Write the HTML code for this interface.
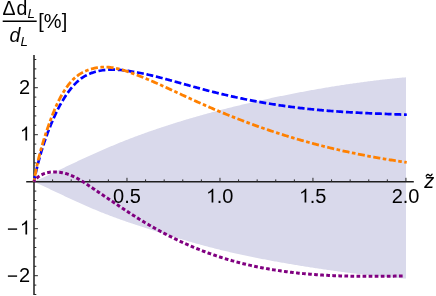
<!DOCTYPE html>
<html><head><meta charset="utf-8"><title>plot</title>
<style>
html,body{margin:0;padding:0;background:#fff;}
body{width:436px;height:296px;overflow:hidden;}
svg{display:block;}
text{font-family:"Liberation Sans",sans-serif;font-size:20px;fill:#000;}
.it{font-style:italic;}
.tx{filter:opacity(0.9999);}
</style></head><body>
<svg width="436" height="296" viewBox="0 0 436 296">
<rect width="436" height="296" fill="#fff"/>
<path d="M34.00,181.60 L35.08,181.11 L36.17,180.62 L37.25,180.12 L38.33,179.63 L39.42,179.13 L40.51,178.64 L41.59,178.14 L42.68,177.64 L43.77,177.14 L44.86,176.64 L45.95,176.14 L47.04,175.63 L48.13,175.13 L49.22,174.62 L50.31,174.12 L51.41,173.61 L52.50,173.11 L53.60,172.60 L54.69,172.08 L55.79,171.56 L56.89,171.04 L57.98,170.52 L59.08,169.99 L60.18,169.47 L61.28,168.95 L62.38,168.42 L63.48,167.90 L64.59,167.38 L65.69,166.85 L66.79,166.33 L67.90,165.81 L69.00,165.29 L70.11,164.76 L71.22,164.24 L72.32,163.72 L73.43,163.20 L74.54,162.68 L75.65,162.16 L76.76,161.64 L77.87,161.12 L78.98,160.60 L80.09,160.08 L81.20,159.57 L82.32,159.05 L83.43,158.53 L84.55,158.02 L85.66,157.51 L86.78,157.00 L87.89,156.49 L89.01,155.98 L90.13,155.47 L91.25,154.96 L92.37,154.45 L93.49,153.95 L94.61,153.45 L95.73,152.95 L96.85,152.45 L97.97,151.95 L99.10,151.45 L100.22,150.96 L101.34,150.47 L102.47,149.98 L103.59,149.49 L104.72,149.00 L105.85,148.51 L106.98,148.03 L108.10,147.55 L109.23,147.07 L110.36,146.59 L111.49,146.11 L112.62,145.64 L113.75,145.17 L114.89,144.70 L116.02,144.23 L117.15,143.76 L118.28,143.30 L119.42,142.83 L120.55,142.37 L121.69,141.92 L122.82,141.46 L123.96,141.01 L125.10,140.56 L126.24,140.11 L127.37,139.66 L128.51,139.22 L129.65,138.78 L130.79,138.34 L131.93,137.90 L133.07,137.47 L134.22,137.04 L135.36,136.61 L136.50,136.18 L137.65,135.76 L138.79,135.33 L139.93,134.91 L141.08,134.50 L142.22,134.08 L143.37,133.67 L144.52,133.25 L145.67,132.84 L146.81,132.44 L147.96,132.03 L149.11,131.62 L150.26,131.22 L151.41,130.82 L152.56,130.42 L153.71,130.02 L154.86,129.63 L156.02,129.23 L157.17,128.84 L158.32,128.45 L159.47,128.06 L160.63,127.68 L161.78,127.29 L162.94,126.91 L164.09,126.53 L165.25,126.15 L166.41,125.77 L167.57,125.40 L168.72,125.03 L169.88,124.65 L171.04,124.28 L172.20,123.92 L173.36,123.55 L174.52,123.18 L175.68,122.82 L176.84,122.46 L178.00,122.10 L179.16,121.74 L180.33,121.38 L181.49,121.03 L182.65,120.67 L183.82,120.32 L184.98,119.97 L186.15,119.62 L187.31,119.27 L188.48,118.93 L189.65,118.58 L190.81,118.24 L191.98,117.90 L193.15,117.56 L194.31,117.22 L195.48,116.89 L196.65,116.55 L197.82,116.22 L198.99,115.89 L200.16,115.56 L201.33,115.23 L202.50,114.90 L203.68,114.57 L204.85,114.25 L206.02,113.92 L207.19,113.60 L208.37,113.28 L209.54,112.96 L210.71,112.64 L211.89,112.33 L213.06,112.01 L214.24,111.70 L215.42,111.39 L216.59,111.08 L217.77,110.77 L218.95,110.46 L220.12,110.15 L221.30,109.84 L222.48,109.54 L223.66,109.24 L224.84,108.93 L226.02,108.63 L227.20,108.34 L228.38,108.04 L229.56,107.74 L230.74,107.45 L231.92,107.15 L233.10,106.86 L234.28,106.57 L235.47,106.28 L236.65,105.99 L237.83,105.70 L239.01,105.41 L240.20,105.13 L241.38,104.84 L242.57,104.56 L243.75,104.28 L244.94,104.00 L246.12,103.72 L247.31,103.44 L248.50,103.16 L249.68,102.89 L250.87,102.61 L252.06,102.34 L253.24,102.07 L254.43,101.80 L255.62,101.53 L256.81,101.26 L258.00,100.99 L259.19,100.72 L260.38,100.46 L261.57,100.19 L262.76,99.93 L263.95,99.67 L265.14,99.41 L266.33,99.15 L267.52,98.89 L268.71,98.63 L269.91,98.38 L271.10,98.12 L272.29,97.87 L273.48,97.61 L274.68,97.36 L275.87,97.11 L277.06,96.86 L278.26,96.61 L279.45,96.37 L280.65,96.12 L281.84,95.88 L283.04,95.63 L284.23,95.39 L285.43,95.15 L286.63,94.91 L287.82,94.67 L289.02,94.43 L290.22,94.19 L291.41,93.96 L292.61,93.72 L293.81,93.49 L295.01,93.26 L296.20,93.02 L297.40,92.79 L298.60,92.56 L299.80,92.34 L301.00,92.11 L302.20,91.88 L303.40,91.66 L304.60,91.44 L305.80,91.21 L307.00,90.99 L308.20,90.77 L309.40,90.55 L310.60,90.34 L311.80,90.12 L313.00,89.90 L314.21,89.69 L315.41,89.48 L316.61,89.26 L317.81,89.05 L319.02,88.84 L320.22,88.64 L321.42,88.43 L322.62,88.22 L323.83,88.02 L325.03,87.81 L326.23,87.61 L327.44,87.41 L328.64,87.21 L329.85,87.01 L331.05,86.81 L332.26,86.62 L333.46,86.42 L334.67,86.23 L335.87,86.04 L337.08,85.85 L338.28,85.66 L339.49,85.47 L340.69,85.28 L341.90,85.09 L343.11,84.91 L344.31,84.72 L345.52,84.54 L346.73,84.36 L347.93,84.18 L349.14,84.00 L350.35,83.83 L351.56,83.65 L352.76,83.48 L353.97,83.30 L355.18,83.13 L356.39,82.96 L357.59,82.79 L358.80,82.63 L360.01,82.46 L361.22,82.29 L362.43,82.13 L363.64,81.97 L364.84,81.81 L366.05,81.65 L367.26,81.49 L368.47,81.34 L369.68,81.18 L370.89,81.03 L372.10,80.88 L373.31,80.73 L374.52,80.58 L375.73,80.43 L376.94,80.29 L378.15,80.14 L379.36,80.00 L380.57,79.86 L381.78,79.72 L382.99,79.59 L384.20,79.45 L385.41,79.32 L386.62,79.18 L387.83,79.05 L389.04,78.92 L390.25,78.80 L391.46,78.67 L392.68,78.55 L393.89,78.42 L395.10,78.30 L396.31,78.19 L397.52,78.07 L398.73,77.95 L399.94,77.84 L401.15,77.73 L402.37,77.62 L403.58,77.51 L404.79,77.40 L406.00,77.30 L406.00,278.55 L404.79,278.47 L403.59,278.38 L402.38,278.30 L401.17,278.21 L399.96,278.12 L398.76,278.03 L397.55,277.93 L396.34,277.84 L395.14,277.74 L393.93,277.64 L392.72,277.54 L391.51,277.43 L390.31,277.33 L389.10,277.22 L387.89,277.11 L386.69,277.00 L385.48,276.89 L384.27,276.77 L383.07,276.66 L381.86,276.54 L380.65,276.42 L379.45,276.30 L378.24,276.18 L377.04,276.06 L375.83,275.94 L374.62,275.81 L373.42,275.68 L372.21,275.55 L371.00,275.42 L369.80,275.29 L368.59,275.16 L367.39,275.02 L366.18,274.89 L364.98,274.75 L363.77,274.61 L362.57,274.47 L361.36,274.33 L360.16,274.19 L358.95,274.05 L357.75,273.90 L356.54,273.75 L355.34,273.61 L354.13,273.46 L352.93,273.31 L351.72,273.16 L350.52,273.01 L349.31,272.85 L348.11,272.70 L346.91,272.55 L345.70,272.39 L344.50,272.23 L343.30,272.07 L342.09,271.91 L340.89,271.75 L339.69,271.59 L338.48,271.43 L337.28,271.27 L336.08,271.10 L334.87,270.93 L333.67,270.77 L332.47,270.60 L331.27,270.43 L330.07,270.26 L328.86,270.09 L327.66,269.92 L326.46,269.75 L325.26,269.57 L324.06,269.40 L322.86,269.22 L321.66,269.04 L320.46,268.87 L319.26,268.69 L318.06,268.51 L316.86,268.33 L315.66,268.15 L314.46,267.96 L313.26,267.78 L312.06,267.60 L310.86,267.41 L309.66,267.22 L308.46,267.04 L307.26,266.85 L306.06,266.66 L304.87,266.47 L303.67,266.28 L302.47,266.08 L301.27,265.89 L300.08,265.70 L298.88,265.50 L297.68,265.31 L296.49,265.11 L295.29,264.91 L294.09,264.71 L292.90,264.51 L291.70,264.31 L290.51,264.11 L289.31,263.90 L288.12,263.70 L286.92,263.49 L285.73,263.29 L284.53,263.08 L283.34,262.87 L282.14,262.66 L280.95,262.45 L279.76,262.24 L278.56,262.02 L277.37,261.81 L276.18,261.59 L274.99,261.38 L273.79,261.16 L272.60,260.94 L271.41,260.72 L270.22,260.50 L269.03,260.28 L267.84,260.05 L266.65,259.83 L265.46,259.60 L264.27,259.37 L263.08,259.14 L261.89,258.91 L260.70,258.68 L259.51,258.45 L258.32,258.21 L257.14,257.98 L255.95,257.74 L254.76,257.50 L253.57,257.26 L252.39,257.02 L251.20,256.78 L250.01,256.53 L248.83,256.29 L247.64,256.04 L246.46,255.79 L245.27,255.54 L244.09,255.29 L242.90,255.03 L241.72,254.78 L240.54,254.52 L239.35,254.26 L238.17,254.00 L236.99,253.74 L235.80,253.48 L234.62,253.21 L233.44,252.94 L232.26,252.67 L231.08,252.40 L229.90,252.13 L228.72,251.85 L227.54,251.58 L226.36,251.30 L225.18,251.02 L224.00,250.74 L222.82,250.45 L221.64,250.17 L220.47,249.88 L219.29,249.59 L218.11,249.30 L216.93,249.00 L215.76,248.71 L214.58,248.41 L213.41,248.11 L212.23,247.81 L211.06,247.50 L209.88,247.20 L208.71,246.89 L207.54,246.58 L206.36,246.27 L205.19,245.96 L204.02,245.64 L202.85,245.33 L201.67,245.01 L200.50,244.69 L199.33,244.37 L198.16,244.04 L196.99,243.72 L195.82,243.39 L194.65,243.06 L193.48,242.73 L192.32,242.39 L191.15,242.06 L189.98,241.72 L188.81,241.39 L187.65,241.05 L186.48,240.70 L185.32,240.36 L184.15,240.02 L182.99,239.67 L181.82,239.32 L180.66,238.98 L179.49,238.63 L178.33,238.27 L177.17,237.92 L176.01,237.57 L174.84,237.21 L173.68,236.86 L172.52,236.50 L171.36,236.14 L170.20,235.78 L169.04,235.42 L167.88,235.06 L166.73,234.69 L165.57,234.33 L164.41,233.97 L163.25,233.60 L162.10,233.23 L160.94,232.87 L159.79,232.50 L158.63,232.13 L157.48,231.76 L156.32,231.39 L155.17,231.02 L154.02,230.65 L152.86,230.28 L151.71,229.91 L150.56,229.54 L149.41,229.17 L148.26,228.79 L147.11,228.42 L145.96,228.04 L144.81,227.67 L143.66,227.29 L142.51,226.92 L141.37,226.55 L140.22,226.17 L139.07,225.80 L137.93,225.42 L136.78,225.05 L135.64,224.67 L134.49,224.29 L133.35,223.92 L132.21,223.54 L131.06,223.16 L129.92,222.78 L128.78,222.40 L127.64,222.01 L126.50,221.63 L125.36,221.24 L124.22,220.85 L123.08,220.45 L121.94,220.05 L120.80,219.65 L119.67,219.25 L118.53,218.84 L117.40,218.43 L116.26,218.02 L115.13,217.60 L113.99,217.18 L112.86,216.76 L111.72,216.34 L110.59,215.91 L109.46,215.48 L108.33,215.04 L107.20,214.61 L106.07,214.17 L104.94,213.73 L103.81,213.28 L102.68,212.83 L101.55,212.38 L100.43,211.93 L99.30,211.48 L98.18,211.02 L97.05,210.56 L95.93,210.09 L94.80,209.62 L93.68,209.15 L92.56,208.68 L91.43,208.21 L90.31,207.73 L89.19,207.25 L88.07,206.76 L86.95,206.27 L85.83,205.79 L84.71,205.29 L83.60,204.80 L82.48,204.30 L81.36,203.80 L80.25,203.30 L79.13,202.80 L78.02,202.29 L76.90,201.79 L75.79,201.28 L74.68,200.77 L73.57,200.26 L72.45,199.75 L71.34,199.23 L70.23,198.72 L69.13,198.20 L68.02,197.69 L66.91,197.17 L65.80,196.65 L64.70,196.13 L63.59,195.62 L62.48,195.10 L61.38,194.58 L60.28,194.06 L59.17,193.54 L58.07,193.03 L56.97,192.51 L55.87,191.99 L54.77,191.48 L53.67,190.96 L52.57,190.43 L51.47,189.90 L50.37,189.38 L49.28,188.85 L48.18,188.33 L47.09,187.81 L45.99,187.29 L44.90,186.77 L43.81,186.25 L42.71,185.74 L41.62,185.22 L40.53,184.71 L39.44,184.20 L38.35,183.70 L37.26,183.19 L36.17,182.69 L35.09,182.20 L34.00,181.70Z" fill="#d9d9eb" stroke="none"/>
<g stroke="#1e1e1e" stroke-width="1.5" fill="none">
<line x1="26.2" y1="181.7" x2="413.8" y2="181.7"/>
<line x1="34.0" y1="55" x2="34.0" y2="294.9"/>
</g>
<g stroke="#2a2a2a" stroke-width="1.0" fill="none">
<line x1="52.60" y1="181.7" x2="52.60" y2="179.40"/>
<line x1="71.19" y1="181.7" x2="71.19" y2="179.40"/>
<line x1="89.79" y1="181.7" x2="89.79" y2="179.40"/>
<line x1="108.39" y1="181.7" x2="108.39" y2="179.40"/>
<line x1="126.98" y1="181.7" x2="126.98" y2="177.80"/>
<line x1="145.58" y1="181.7" x2="145.58" y2="179.40"/>
<line x1="164.18" y1="181.7" x2="164.18" y2="179.40"/>
<line x1="182.78" y1="181.7" x2="182.78" y2="179.40"/>
<line x1="201.37" y1="181.7" x2="201.37" y2="179.40"/>
<line x1="219.97" y1="181.7" x2="219.97" y2="177.80"/>
<line x1="238.57" y1="181.7" x2="238.57" y2="179.40"/>
<line x1="257.16" y1="181.7" x2="257.16" y2="179.40"/>
<line x1="275.76" y1="181.7" x2="275.76" y2="179.40"/>
<line x1="294.36" y1="181.7" x2="294.36" y2="179.40"/>
<line x1="312.95" y1="181.7" x2="312.95" y2="177.80"/>
<line x1="331.55" y1="181.7" x2="331.55" y2="179.40"/>
<line x1="350.15" y1="181.7" x2="350.15" y2="179.40"/>
<line x1="368.75" y1="181.7" x2="368.75" y2="179.40"/>
<line x1="387.34" y1="181.7" x2="387.34" y2="179.40"/>
<line x1="405.94" y1="181.7" x2="405.94" y2="177.80"/>
<line x1="34.0" y1="294.50" x2="36.30" y2="294.50"/>
<line x1="34.0" y1="285.10" x2="36.30" y2="285.10"/>
<line x1="34.0" y1="275.70" x2="37.90" y2="275.70"/>
<line x1="34.0" y1="266.30" x2="36.30" y2="266.30"/>
<line x1="34.0" y1="256.90" x2="36.30" y2="256.90"/>
<line x1="34.0" y1="247.50" x2="36.30" y2="247.50"/>
<line x1="34.0" y1="238.10" x2="36.30" y2="238.10"/>
<line x1="34.0" y1="228.70" x2="37.90" y2="228.70"/>
<line x1="34.0" y1="219.30" x2="36.30" y2="219.30"/>
<line x1="34.0" y1="209.90" x2="36.30" y2="209.90"/>
<line x1="34.0" y1="200.50" x2="36.30" y2="200.50"/>
<line x1="34.0" y1="191.10" x2="36.30" y2="191.10"/>
<line x1="34.0" y1="172.30" x2="36.30" y2="172.30"/>
<line x1="34.0" y1="162.90" x2="36.30" y2="162.90"/>
<line x1="34.0" y1="153.50" x2="36.30" y2="153.50"/>
<line x1="34.0" y1="144.10" x2="36.30" y2="144.10"/>
<line x1="34.0" y1="134.70" x2="37.90" y2="134.70"/>
<line x1="34.0" y1="125.30" x2="36.30" y2="125.30"/>
<line x1="34.0" y1="115.90" x2="36.30" y2="115.90"/>
<line x1="34.0" y1="106.50" x2="36.30" y2="106.50"/>
<line x1="34.0" y1="97.10" x2="36.30" y2="97.10"/>
<line x1="34.0" y1="87.70" x2="37.90" y2="87.70"/>
<line x1="34.0" y1="78.30" x2="36.30" y2="78.30"/>
<line x1="34.0" y1="68.90" x2="36.30" y2="68.90"/>
<line x1="34.0" y1="59.50" x2="36.30" y2="59.50"/>
</g>
<g fill="none" stroke-width="2.7" stroke-linecap="butt" stroke-linejoin="round">
<path d="M406.80,114.75 L405.39,114.69 L403.98,114.64 L402.56,114.58 L401.15,114.53 L399.74,114.47 L398.33,114.42 L396.92,114.37 L395.51,114.31 L394.10,114.26 L392.69,114.21 L391.28,114.15 L389.87,114.10 L388.47,114.05 L387.06,113.99 L385.65,113.94 L384.24,113.88 L382.84,113.83 L381.43,113.77 L380.03,113.72 L378.62,113.66 L377.22,113.60 L375.81,113.54 L374.41,113.48 L373.00,113.42 L371.60,113.36 L370.19,113.30 L368.79,113.24 L367.39,113.18 L365.99,113.11 L364.59,113.05 L363.18,112.98 L361.78,112.91 L360.38,112.84 L358.98,112.77 L357.58,112.70 L356.18,112.62 L354.78,112.55 L353.38,112.47 L351.98,112.39 L350.59,112.31 L349.19,112.23 L347.79,112.15 L346.39,112.06 L345.00,111.98 L343.60,111.89 L342.20,111.80 L340.81,111.70 L339.41,111.61 L338.02,111.51 L336.62,111.41 L335.23,111.31 L333.83,111.21 L332.44,111.11 L331.05,111.00 L329.65,110.89 L328.26,110.78 L326.87,110.67 L325.47,110.55 L324.08,110.43 L322.69,110.31 L321.30,110.19 L319.91,110.06 L318.52,109.94 L317.13,109.81 L315.74,109.67 L314.35,109.54 L312.96,109.40 L311.57,109.26 L310.18,109.12 L308.79,108.97 L307.40,108.83 L306.02,108.67 L304.63,108.52 L303.24,108.37 L301.86,108.21 L300.47,108.05 L299.08,107.88 L297.70,107.72 L296.31,107.55 L294.93,107.37 L293.54,107.20 L292.16,107.02 L290.77,106.84 L289.39,106.66 L288.01,106.47 L286.62,106.28 L285.24,106.09 L283.86,105.89 L282.47,105.70 L281.09,105.49 L279.71,105.29 L278.33,105.08 L276.95,104.87 L275.57,104.66 L274.19,104.45 L272.81,104.23 L271.43,104.01 L270.05,103.78 L268.67,103.56 L267.29,103.33 L265.91,103.09 L264.53,102.86 L263.15,102.62 L261.78,102.37 L260.40,102.13 L259.02,101.88 L257.64,101.63 L256.27,101.38 L254.89,101.12 L253.51,100.86 L252.14,100.60 L250.76,100.33 L249.39,100.06 L248.01,99.79 L246.64,99.52 L245.26,99.24 L243.89,98.96 L242.52,98.68 L241.14,98.39 L239.77,98.10 L238.40,97.81 L237.02,97.51 L235.65,97.22 L234.28,96.92 L232.91,96.61 L231.53,96.31 L230.16,96.00 L228.79,95.69 L227.42,95.37 L226.05,95.05 L224.68,94.73 L223.31,94.41 L221.94,94.09 L220.57,93.76 L219.20,93.43 L217.83,93.09 L216.46,92.76 L215.09,92.42 L213.73,92.08 L212.36,91.73 L210.99,91.39 L209.62,91.04 L208.26,90.69 L206.89,90.33 L205.52,89.98 L204.16,89.62 L202.79,89.26 L201.42,88.89 L200.06,88.53 L198.69,88.16 L197.33,87.79 L195.96,87.42 L194.60,87.05 L193.23,86.68 L191.87,86.30 L190.51,85.93 L189.14,85.55 L187.78,85.17 L186.42,84.79 L185.05,84.41 L183.69,84.03 L182.33,83.65 L180.97,83.27 L179.60,82.89 L178.24,82.51 L176.88,82.14 L175.52,81.76 L174.16,81.38 L172.80,81.00 L171.44,80.63 L170.08,80.25 L168.72,79.88 L167.36,79.51 L166.00,79.14 L164.64,78.78 L163.28,78.42 L161.92,78.06 L160.56,77.70 L159.20,77.35 L157.84,77.00 L156.49,76.66 L155.13,76.32 L153.77,75.99 L152.41,75.66 L151.06,75.33 L149.70,75.02 L148.34,74.71 L146.99,74.41 L145.63,74.11 L144.27,73.83 L142.92,73.55 L141.56,73.28 L140.20,73.01 L138.84,72.76 L137.48,72.50 L136.12,72.25 L134.76,72.01 L133.40,71.77 L132.03,71.54 L130.67,71.32 L129.30,71.10 L127.93,70.89 L126.55,70.70 L125.18,70.51 L123.80,70.33 L122.42,70.17 L121.04,70.03 L119.65,69.90 L118.26,69.79 L116.86,69.71 L115.47,69.64 L114.07,69.60 L112.66,69.59 L111.25,69.60 L109.84,69.64 L108.44,69.71 L107.03,69.80 L105.62,69.93 L104.22,70.08 L102.82,70.26 L101.42,70.47 L100.04,70.71 L98.66,70.99 L97.29,71.30 L95.93,71.64 L94.59,72.01 L93.25,72.42 L91.93,72.87 L90.63,73.36 L89.34,73.88 L88.07,74.44 L86.82,75.04 L85.59,75.69 L84.38,76.37 L83.20,77.10 L82.04,77.87 L80.90,78.68 L79.79,79.54 L78.70,80.44 L77.64,81.37 L76.60,82.34 L75.59,83.34 L74.59,84.37 L73.62,85.43 L72.68,86.51 L71.75,87.60 L70.84,88.72 L69.96,89.85 L69.09,90.99 L68.24,92.13 L67.41,93.29 L66.60,94.45 L65.81,95.62 L65.03,96.80 L64.27,97.98 L63.53,99.17 L62.80,100.37 L62.08,101.57 L61.38,102.78 L60.70,103.99 L60.02,105.21 L59.36,106.44 L58.72,107.67 L58.08,108.90 L57.45,110.15 L56.84,111.39 L56.23,112.65 L55.64,113.90 L55.05,115.16 L54.47,116.43 L53.90,117.70 L53.34,118.96 L52.78,120.23 L52.23,121.51 L51.69,122.79 L51.15,124.07 L50.62,125.36 L50.10,126.65 L49.58,127.94 L49.06,129.23 L48.56,130.53 L48.06,131.84 L47.56,133.14 L47.07,134.45 L46.59,135.77 L46.12,137.08 L45.65,138.40 L45.19,139.72 L44.73,141.04 L44.28,142.37 L43.83,143.70 L43.40,145.03 L42.96,146.36 L42.54,147.70 L42.12,149.04 L41.71,150.38 L41.30,151.72 L40.90,153.06 L40.51,154.41 L40.12,155.76 L39.74,157.11 L39.37,158.46 L39.00,159.81 L38.64,161.16 L38.28,162.52 L37.94,163.88 L37.59,165.23 L37.26,166.59 L36.93,167.95 L36.61,169.32 L36.29,170.68 L35.98,172.04 L35.68,173.40 L35.38,174.77 L35.09,176.13 L34.81,177.50 L34.53,178.87 L34.26,180.23 L34.00,181.60" stroke="#0000ff" stroke-dasharray="6.95 2.74" stroke-dashoffset="4.15"/>
<path d="M406.70,162.40 L405.27,162.19 L403.84,161.98 L402.41,161.77 L400.97,161.56 L399.54,161.34 L398.11,161.13 L396.68,160.91 L395.25,160.68 L393.81,160.46 L392.38,160.23 L390.95,160.00 L389.52,159.77 L388.09,159.54 L386.65,159.30 L385.22,159.06 L383.79,158.82 L382.36,158.58 L380.93,158.34 L379.49,158.09 L378.06,157.84 L376.63,157.58 L375.20,157.33 L373.77,157.07 L372.34,156.81 L370.91,156.55 L369.48,156.28 L368.05,156.01 L366.62,155.74 L365.19,155.47 L363.76,155.19 L362.33,154.91 L360.90,154.63 L359.47,154.35 L358.04,154.06 L356.62,153.77 L355.19,153.48 L353.76,153.18 L352.34,152.89 L350.91,152.59 L349.48,152.28 L348.06,151.98 L346.63,151.67 L345.21,151.36 L343.78,151.04 L342.36,150.73 L340.94,150.41 L339.52,150.09 L338.09,149.76 L336.67,149.43 L335.25,149.10 L333.83,148.77 L332.41,148.43 L330.99,148.09 L329.58,147.75 L328.16,147.40 L326.74,147.06 L325.33,146.71 L323.91,146.35 L322.50,146.00 L321.08,145.64 L319.67,145.27 L318.26,144.91 L316.84,144.54 L315.43,144.17 L314.02,143.80 L312.61,143.42 L311.21,143.04 L309.80,142.66 L308.39,142.27 L306.99,141.89 L305.58,141.50 L304.18,141.10 L302.77,140.71 L301.37,140.31 L299.97,139.90 L298.57,139.50 L297.17,139.09 L295.77,138.68 L294.37,138.27 L292.98,137.85 L291.58,137.43 L290.19,137.01 L288.80,136.59 L287.40,136.16 L286.01,135.73 L284.62,135.30 L283.24,134.86 L281.85,134.42 L280.46,133.98 L279.08,133.54 L277.69,133.09 L276.31,132.64 L274.93,132.19 L273.55,131.73 L272.17,131.28 L270.79,130.82 L269.42,130.35 L268.04,129.89 L266.67,129.42 L265.29,128.95 L263.92,128.48 L262.55,128.00 L261.18,127.52 L259.82,127.04 L258.45,126.56 L257.09,126.07 L255.73,125.58 L254.36,125.09 L253.00,124.60 L251.65,124.10 L250.29,123.60 L248.93,123.10 L247.58,122.60 L246.23,122.09 L244.87,121.58 L243.52,121.07 L242.17,120.56 L240.82,120.04 L239.48,119.53 L238.13,119.00 L236.79,118.48 L235.44,117.95 L234.10,117.43 L232.76,116.89 L231.41,116.36 L230.07,115.82 L228.73,115.29 L227.40,114.74 L226.06,114.20 L224.72,113.65 L223.38,113.10 L222.05,112.55 L220.71,112.00 L219.38,111.44 L218.04,110.88 L216.71,110.32 L215.38,109.76 L214.05,109.19 L212.71,108.62 L211.38,108.05 L210.05,107.48 L208.72,106.90 L207.39,106.32 L206.06,105.74 L204.73,105.15 L203.40,104.57 L202.07,103.98 L200.74,103.39 L199.42,102.79 L198.09,102.20 L196.76,101.60 L195.43,101.00 L194.10,100.40 L192.77,99.79 L191.45,99.19 L190.12,98.58 L188.79,97.97 L187.46,97.36 L186.13,96.75 L184.80,96.14 L183.48,95.52 L182.15,94.91 L180.82,94.29 L179.49,93.68 L178.16,93.06 L176.83,92.44 L175.50,91.83 L174.17,91.21 L172.83,90.59 L171.50,89.98 L170.17,89.36 L168.84,88.74 L167.50,88.13 L166.17,87.52 L164.83,86.91 L163.50,86.30 L162.16,85.69 L160.82,85.08 L159.49,84.48 L158.15,83.88 L156.81,83.28 L155.47,82.69 L154.13,82.10 L152.79,81.51 L151.44,80.93 L150.10,80.35 L148.75,79.77 L147.41,79.21 L146.06,78.65 L144.71,78.10 L143.36,77.55 L142.01,77.01 L140.66,76.47 L139.31,75.94 L137.95,75.41 L136.60,74.89 L135.24,74.37 L133.88,73.85 L132.52,73.34 L131.15,72.84 L129.79,72.34 L128.42,71.86 L127.04,71.38 L125.67,70.92 L124.29,70.47 L122.91,70.04 L121.52,69.63 L120.13,69.24 L118.73,68.88 L117.33,68.55 L115.93,68.25 L114.52,67.98 L113.11,67.74 L111.69,67.54 L110.27,67.38 L108.84,67.25 L107.41,67.16 L105.97,67.12 L104.53,67.11 L103.08,67.14 L101.63,67.21 L100.18,67.33 L98.74,67.48 L97.30,67.68 L95.87,67.91 L94.44,68.19 L93.02,68.51 L91.62,68.88 L90.22,69.29 L88.84,69.74 L87.48,70.23 L86.14,70.77 L84.81,71.35 L83.51,71.97 L82.23,72.64 L80.98,73.35 L79.75,74.11 L78.56,74.92 L77.39,75.77 L76.25,76.66 L75.15,77.60 L74.07,78.57 L73.03,79.59 L72.01,80.63 L71.02,81.71 L70.06,82.82 L69.12,83.96 L68.21,85.12 L67.32,86.30 L66.45,87.50 L65.61,88.72 L64.80,89.95 L64.00,91.19 L63.23,92.44 L62.47,93.70 L61.73,94.97 L61.02,96.25 L60.32,97.53 L59.64,98.82 L58.97,100.12 L58.33,101.42 L57.69,102.73 L57.07,104.04 L56.47,105.36 L55.87,106.69 L55.29,108.02 L54.72,109.35 L54.17,110.69 L53.62,112.03 L53.08,113.37 L52.55,114.72 L52.02,116.06 L51.51,117.41 L51.00,118.76 L50.50,120.12 L50.00,121.48 L49.50,122.83 L49.01,124.19 L48.53,125.56 L48.05,126.92 L47.57,128.29 L47.10,129.66 L46.64,131.02 L46.18,132.40 L45.72,133.77 L45.27,135.15 L44.83,136.52 L44.39,137.90 L43.96,139.28 L43.53,140.67 L43.11,142.05 L42.70,143.44 L42.29,144.83 L41.89,146.22 L41.49,147.61 L41.10,149.00 L40.71,150.40 L40.34,151.80 L39.96,153.20 L39.60,154.60 L39.24,156.00 L38.89,157.41 L38.54,158.82 L38.20,160.23 L37.87,161.64 L37.55,163.05 L37.23,164.47 L36.92,165.88 L36.62,167.30 L36.32,168.72 L36.03,170.15 L35.75,171.57 L35.48,173.00 L35.21,174.43 L34.95,175.86 L34.70,177.29 L34.46,178.72 L34.23,180.16 L34.00,181.60" stroke="#ff8000" stroke-width="2.8" stroke-dasharray="7.1 2.5 3.6 2.5" stroke-dashoffset="4.65"/>
<path d="M404.60,275.92 L403.37,275.95 L402.14,275.97 L400.91,276.00 L399.68,276.02 L398.45,276.05 L397.22,276.07 L395.98,276.10 L394.75,276.12 L393.51,276.14 L392.28,276.16 L391.04,276.18 L389.80,276.20 L388.56,276.22 L387.33,276.24 L386.09,276.25 L384.85,276.27 L383.61,276.28 L382.37,276.29 L381.12,276.31 L379.88,276.32 L378.64,276.33 L377.40,276.33 L376.15,276.34 L374.91,276.35 L373.66,276.35 L372.42,276.36 L371.17,276.36 L369.93,276.36 L368.68,276.36 L367.43,276.36 L366.19,276.35 L364.94,276.35 L363.69,276.34 L362.44,276.33 L361.19,276.32 L359.95,276.31 L358.70,276.30 L357.45,276.28 L356.20,276.27 L354.95,276.25 L353.70,276.23 L352.45,276.21 L351.20,276.19 L349.94,276.16 L348.69,276.13 L347.44,276.10 L346.19,276.07 L344.94,276.04 L343.69,276.01 L342.44,275.97 L341.18,275.93 L339.93,275.89 L338.68,275.84 L337.43,275.80 L336.18,275.75 L334.92,275.70 L333.67,275.65 L332.42,275.59 L331.17,275.54 L329.92,275.48 L328.66,275.42 L327.41,275.35 L326.16,275.29 L324.91,275.22 L323.66,275.15 L322.41,275.07 L321.16,274.99 L319.90,274.92 L318.65,274.83 L317.40,274.75 L316.15,274.66 L314.90,274.57 L313.65,274.48 L312.40,274.38 L311.16,274.28 L309.91,274.18 L308.66,274.08 L307.41,273.97 L306.16,273.86 L304.91,273.75 L303.67,273.63 L302.42,273.51 L301.17,273.39 L299.93,273.27 L298.68,273.14 L297.44,273.01 L296.19,272.87 L294.95,272.73 L293.71,272.59 L292.46,272.45 L291.22,272.30 L289.98,272.15 L288.74,272.00 L287.50,271.84 L286.26,271.68 L285.02,271.51 L283.78,271.34 L282.54,271.17 L281.30,271.00 L280.07,270.82 L278.83,270.64 L277.59,270.45 L276.36,270.26 L275.13,270.07 L273.89,269.87 L272.66,269.67 L271.43,269.47 L270.20,269.26 L268.97,269.05 L267.74,268.83 L266.51,268.61 L265.28,268.39 L264.06,268.16 L262.83,267.93 L261.60,267.70 L260.38,267.46 L259.16,267.22 L257.94,266.97 L256.71,266.72 L255.49,266.47 L254.28,266.21 L253.06,265.94 L251.84,265.68 L250.62,265.41 L249.41,265.13 L248.20,264.85 L246.98,264.57 L245.77,264.28 L244.56,263.99 L243.35,263.69 L242.14,263.39 L240.94,263.09 L239.73,262.78 L238.53,262.47 L237.32,262.15 L236.12,261.83 L234.92,261.50 L233.72,261.17 L232.52,260.84 L231.32,260.50 L230.13,260.16 L228.93,259.81 L227.74,259.45 L226.55,259.10 L225.36,258.74 L224.17,258.37 L222.98,258.00 L221.80,257.63 L220.61,257.25 L219.43,256.87 L218.25,256.48 L217.07,256.09 L215.89,255.69 L214.71,255.29 L213.53,254.88 L212.36,254.47 L211.19,254.06 L210.02,253.64 L208.85,253.22 L207.68,252.79 L206.51,252.36 L205.35,251.92 L204.18,251.48 L203.02,251.04 L201.86,250.59 L200.71,250.14 L199.55,249.68 L198.39,249.22 L197.24,248.75 L196.09,248.28 L194.94,247.81 L193.79,247.33 L192.65,246.85 L191.51,246.36 L190.36,245.87 L189.22,245.38 L188.09,244.88 L186.95,244.38 L185.81,243.87 L184.68,243.36 L183.55,242.85 L182.42,242.33 L181.30,241.81 L180.17,241.29 L179.05,240.76 L177.93,240.23 L176.81,239.69 L175.69,239.15 L174.58,238.61 L173.47,238.06 L172.35,237.51 L171.25,236.96 L170.14,236.40 L169.03,235.84 L167.93,235.28 L166.83,234.71 L165.73,234.14 L164.63,233.57 L163.53,232.99 L162.44,232.41 L161.35,231.82 L160.26,231.24 L159.17,230.65 L158.08,230.05 L156.99,229.46 L155.91,228.86 L154.82,228.25 L153.74,227.64 L152.66,227.04 L151.58,226.42 L150.51,225.81 L149.43,225.19 L148.36,224.56 L147.28,223.94 L146.21,223.31 L145.14,222.67 L144.07,222.04 L143.00,221.39 L141.94,220.75 L140.87,220.10 L139.81,219.44 L138.74,218.79 L137.68,218.12 L136.62,217.46 L135.56,216.79 L134.50,216.11 L133.44,215.44 L132.39,214.76 L131.33,214.07 L130.28,213.39 L129.22,212.70 L128.17,212.01 L127.12,211.31 L126.07,210.62 L125.02,209.92 L123.97,209.22 L122.92,208.52 L121.87,207.82 L120.82,207.12 L119.78,206.41 L118.73,205.71 L117.69,205.01 L116.64,204.30 L115.60,203.60 L114.56,202.90 L113.51,202.20 L112.47,201.50 L111.43,200.80 L110.39,200.10 L109.35,199.40 L108.31,198.70 L107.27,198.00 L106.23,197.30 L105.19,196.60 L104.15,195.90 L103.12,195.20 L102.08,194.50 L101.04,193.80 L100.00,193.10 L98.97,192.40 L97.93,191.70 L96.89,191.00 L95.86,190.31 L94.82,189.61 L93.79,188.91 L92.75,188.21 L91.71,187.52 L90.68,186.82 L89.64,186.13 L88.61,185.44 L87.57,184.75 L86.53,184.06 L85.49,183.38 L84.45,182.71 L83.40,182.04 L82.36,181.38 L81.30,180.74 L80.24,180.10 L79.18,179.48 L78.11,178.87 L77.03,178.28 L75.95,177.71 L74.86,177.15 L73.76,176.62 L72.65,176.10 L71.53,175.61 L70.40,175.15 L69.26,174.71 L68.10,174.29 L66.94,173.91 L65.76,173.55 L64.57,173.22 L63.36,172.93 L62.14,172.67 L60.91,172.45 L59.66,172.26 L58.40,172.11 L57.13,172.00 L55.86,171.94 L54.59,171.92 L53.32,171.93 L52.05,171.98 L50.79,172.09 L49.54,172.24 L48.31,172.45 L47.09,172.71 L45.89,173.03 L44.71,173.41 L43.55,173.84 L42.43,174.33 L41.33,174.88 L40.27,175.49 L39.24,176.17 L38.25,176.91 L37.31,177.71 L36.41,178.58 L35.55,179.52 L34.75,180.52 L34.00,181.60" stroke="#800080" stroke-width="3.0" stroke-dasharray="3.7 2.36" stroke-dashoffset="4.1"/>
</g>
<g class="tx">
<text x="126.98" y="202.6" text-anchor="middle">0.5</text>
<text x="405.54" y="202.6" text-anchor="middle">2.0</text>
<path transform="translate(206.12,202.5) scale(0.009424,-0.009424)" d="M763 0H583V1147Q518 1085 412.5 1023T223 930V1104Q374 1175 487 1276T647 1472H763Z" fill="#000"/>
<text x="216.79" y="202.6">.0</text>
<path transform="translate(299.11,202.5) scale(0.009424,-0.009424)" d="M763 0H583V1147Q518 1085 412.5 1023T223 930V1104Q374 1175 487 1276T647 1472H763Z" fill="#000"/>
<text x="309.78" y="202.6">.5</text>
<text x="30.0" y="93.50" text-anchor="end">2</text>
<text x="30.0" y="281.50" text-anchor="end">2</text>
<path transform="translate(19.90,140.50) scale(0.009473,-0.009473)" d="M763 0H583V1147Q518 1085 412.5 1023T223 930V1104Q374 1175 487 1276T647 1472H763Z" fill="#000"/>
<path transform="translate(19.90,234.50) scale(0.009473,-0.009473)" d="M763 0H583V1147Q518 1085 412.5 1023T223 930V1104Q374 1175 487 1276T647 1472H763Z" fill="#000"/>
<line x1="7.9" y1="229.10" x2="17.1" y2="229.10" stroke="#000" stroke-width="1.4"/>
<line x1="7.9" y1="276.10" x2="17.1" y2="276.10" stroke="#000" stroke-width="1.4"/>
<!-- axis label z tilde -->
<text x="424.3" y="187.5" class="it" style="font-size:20px">z</text>
<path d="M426.2,176.1 C427.1,174.2 428.3,174.2 429.1,175.1 C429.9,176.0 431.1,176.1 432.0,174.2" fill="none" stroke="#000" stroke-width="1.4" stroke-linecap="round"/>
<!-- y label -->
<text x="2.5" y="14.5" style="font-size:19.5px">&#916;</text>
<text x="16.4" y="14.5" style="font-size:19.5px">d</text>
<text x="27.6" y="18.2" class="it" style="font-size:13.3px">L</text>
<line x1="2.7" y1="21.35" x2="36.7" y2="21.35" stroke="#000" stroke-width="1.5"/>
<text x="9.6" y="42.2" class="it" style="font-size:19.5px">d</text>
<text x="20.6" y="45.6" class="it" style="font-size:13.3px">L</text>
<text x="38.3" y="27.6" style="font-size:20px">[%]</text>
</g>
</svg>
</body></html>
